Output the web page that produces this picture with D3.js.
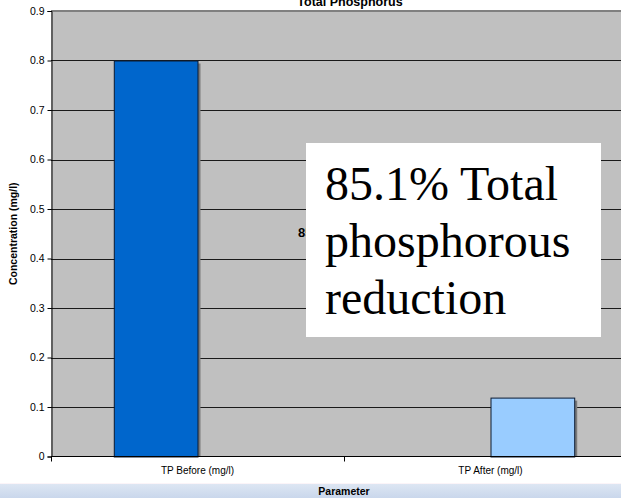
<!DOCTYPE html>
<html>
<head>
<meta charset="utf-8">
<script src="https://cdn.jsdelivr.net/npm/d3@7"></script>
<style>
  body { margin: 0; background: #fff; }
  text { font-family: "Liberation Sans", Arial, sans-serif; }
</style>
</head>
<body>
<div id="chart"></div>
<script>
var svgWidth = 621
var svgHeight = 498

// data
var categories = ["TP Before (mg/l)", "TP After (mg/l)"]
var seriesNames = ["TP Before", "TP After"]
var beforeValues = [0.8, 0]
var afterValues = [0, 0.119]
var seriesColors = ["#0066CC", "#99CCFF"]
var yTicks = [0, 0.1, 0.2, 0.3, 0.4, 0.5, 0.6, 0.7, 0.8, 0.9]
var noteLines = ["85.1% Total", "phosphorous", "reduction"]

var plot = { left: 51, right: 637, top: 11, bottom: 456.5 }

var svg = d3.select("#chart").append("svg")
    .attr("width", svgWidth).attr("height", svgHeight)

var defs = svg.append("defs")
var grad = defs.append("linearGradient").attr("id", "band").attr("x1", 0).attr("y1", 0).attr("x2", 0).attr("y2", 1)
grad.append("stop").attr("offset", "0%").attr("stop-color", "#dde6f3")
grad.append("stop").attr("offset", "100%").attr("stop-color", "#c9d7ec")

var xScale = d3.scaleBand().domain(categories).range([plot.left, plot.right])
var xInner = d3.scaleBand().domain(seriesNames).range([0, xScale.bandwidth()]).paddingOuter(0.75)
var yScale = d3.scaleLinear().domain([0, 0.9]).range([plot.bottom, plot.top])

// plot area
svg.append("rect")
    .attr("x", plot.left).attr("y", plot.top)
    .attr("width", plot.right - plot.left).attr("height", plot.bottom - plot.top)
    .attr("fill", "#C0C0C0")

// gridlines
svg.append("g").selectAll("line").data(yTicks.slice(1, -1)).enter().append("line")
    .attr("x1", plot.left).attr("x2", plot.right)
    .attr("y1", d => Math.round(yScale(d)) + 0.5).attr("y2", d => Math.round(yScale(d)) + 0.5)
    .attr("stroke", "#1a1a1a").attr("stroke-width", 1)

svg.append("line")
    .attr("x1", plot.left).attr("x2", plot.right)
    .attr("y1", plot.top).attr("y2", plot.top)
    .attr("stroke", "#808080").attr("stroke-width", 2)

// hidden label behind the note box
svg.append("text")
    .attr("x", 298).attr("y", 237)
    .attr("font-size", "13px").attr("font-weight", "bold")
    .text("85.1% Total phosphorous reduction")

// bars
var rows = categories.map((c, i) => ({ cat: c, vals: [beforeValues[i], afterValues[i]] }))
var groups = svg.append("g").selectAll("g").data(rows).enter().append("g")
    .attr("transform", d => `translate(${xScale(d.cat)},0)`)

var bars = groups.selectAll("g").data(d => d.vals.map((v, j) => ({ name: seriesNames[j], v: v, j: j })).filter(b => b.v > 0))
    .enter().append("g")

bars.append("rect")
    .attr("x", d => xInner(d.name) + 3)
    .attr("y", d => yScale(d.v) + 3)
    .attr("width", xInner.bandwidth())
    .attr("height", d => plot.bottom - yScale(d.v) - 3)
    .attr("fill", "#7a7a7a")

bars.append("rect")
    .attr("x", d => xInner(d.name) + 0.5)
    .attr("y", d => yScale(d.v) + 0.5)
    .attr("width", xInner.bandwidth())
    .attr("height", d => plot.bottom - yScale(d.v))
    .attr("fill", d => seriesColors[d.j])
    .attr("stroke", "#0a1a33").attr("stroke-width", 1)

// y axis
var leftAxis = d3.axisLeft(yScale).tickValues(yTicks).tickSize(4).tickPadding(3)
    .tickFormat(d => d3.format("")(+d.toFixed(1)))
var yG = svg.append("g").attr("transform", `translate(${plot.left + 0.5},0)`).call(leftAxis)
yG.select(".domain").attr("stroke", "#000")
yG.selectAll("text").attr("font-size", "10.5px").attr("fill", "#000")
    .style("font-family", "'Liberation Sans', Arial, sans-serif")

// x axis
svg.append("line")
    .attr("x1", plot.left).attr("x2", plot.right)
    .attr("y1", plot.bottom).attr("y2", plot.bottom)
    .attr("stroke", "#000")
svg.append("g").selectAll("line").data(categories).enter().append("line")
    .attr("x1", d => xScale(d) + 0.5).attr("x2", d => xScale(d) + 0.5)
    .attr("y1", plot.bottom).attr("y2", plot.bottom + 5)
    .attr("stroke", "#000")
svg.append("g").selectAll("text").data(categories).enter().append("text")
    .attr("x", d => xScale(d) + xScale.bandwidth() / 2)
    .attr("y", 474)
    .attr("text-anchor", "middle")
    .attr("font-size", "10px")
    .text(d => d)

// titles
svg.append("text")
    .attr("x", 350).attr("y", 6)
    .attr("text-anchor", "middle").attr("font-size", "12.5px").attr("font-weight", "bold")
    .text("Total Phosphorus")

svg.append("text")
    .attr("transform", `translate(17, ${(plot.top + plot.bottom) / 2}) rotate(-90)`)
    .attr("text-anchor", "middle").attr("font-size", "10.5px").attr("font-weight", "bold")
    .text("Concentration (mg/l)")

// bottom band with axis title
svg.append("rect").attr("x", 0).attr("y", 483).attr("width", svgWidth).attr("height", 1).attr("fill", "#fbf4f8")
svg.append("rect").attr("x", 0).attr("y", 484).attr("width", svgWidth).attr("height", 14).attr("fill", "url(#band)")
svg.append("text")
    .attr("x", 344).attr("y", 495)
    .attr("text-anchor", "middle").attr("font-size", "10.5px").attr("font-weight", "bold")
    .text("Parameter")

// note box
svg.append("rect")
    .attr("x", 306).attr("y", 143).attr("width", 295).attr("height", 194)
    .attr("fill", "#fff")
svg.append("g").selectAll("text").data(noteLines).enter().append("text")
    .attr("x", 325)
    .attr("y", (d, i) => 200 + i * 57)
    .attr("font-size", "48px")
    .style("font-family", "'Liberation Serif', 'Times New Roman', serif")
    .text(d => d)
</script>
</body>
</html>
